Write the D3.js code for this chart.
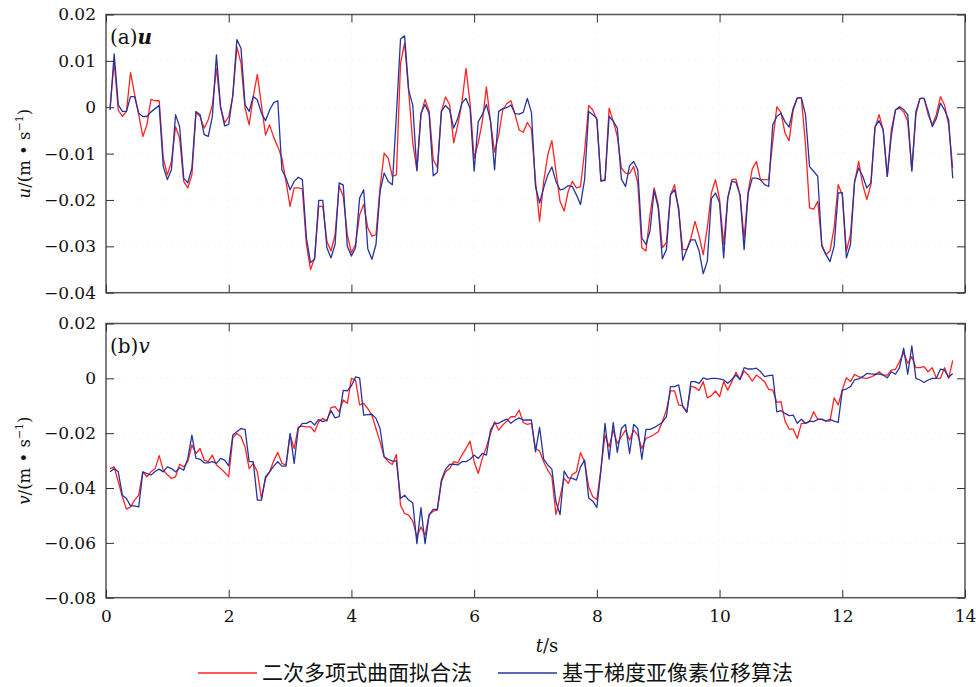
<!DOCTYPE html>
<html>
<head>
<meta charset="utf-8">
<script src="https://cdn.jsdelivr.net/npm/d3@7"></script>
<style>
  body { margin: 0; background: #fff; }
  svg { display: block; font-family: "DejaVu Serif", serif; }
</style>
</head>
<body>
<svg id="chart" width="976" height="687"></svg>
<script>
// DATA
const frameRate = 15; // samples per second, first sample at 1/15 s
const xTicks = [0, 2, 4, 6, 8, 10, 12, 14];
const uTicks = [0.02, 0.01, 0, -0.01, -0.02, -0.03, -0.04];
const vTicks = [0.02, 0, -0.02, -0.04, -0.06, -0.08];
const seriesNames = ["二次多项式曲面拟合法", "基于梯度亚像素位移算法"];

// velocities in 1e-3 m/s
const uRed = [
  0.1, 9.8, -0.6, -2.0, -0.9, 7.5, 2.7, -1.6, -6.3, -3.8,
  1.7, 1.4, 1.4, -11.0, -14.6, -11.7, -4.2, -6.7, -16.0, -17.4,
  -14.6, -1.1, -2.0, -4.5, -2.7, 0.5, 8.4, 0.1, -3.4, -2.0,
  2.3, 13.0, 9.5, -0.2, -3.8, 2.3, 7.1, 0.5, -6.0, -3.8,
  -6.5, -8.5, -11.0, -16.0, -21.4, -17.4, -17.4, -17.6, -29.6, -35.0,
  -32.5, -21.4, -21.4, -28.9, -31.0, -27.5, -17.0, -19.2, -27.5, -31.4,
  -29.6, -23.2, -21.0, -26.0, -27.8, -27.5, -17.4, -9.9, -11.0, -14.9,
  -14.6, 9.5, 13.8, 3.4, -7.7, -13.5, -1.6, 1.7, -0.9, -11.3,
  -13.0, -0.9, 2.2, 0.6, -7.7, -3.8, 0.9, 8.4, 0.9, -11.0,
  -7.7, -3.1, 4.4, -3.1, -9.7, -6.0, -0.6, 0.8, 1.4, -1.6,
  -4.9, -5.4, -3.3, -4.7, -16.0, -24.6, -16.0, -10.3, -7.2, -13.8,
  -20.3, -22.4, -18.1, -16.0, -17.4, -17.1, -9.5, 0.4, -0.6, -2.7,
  -16.0, -15.6, -0.2, -3.0, -6.3, -13.1, -14.2, -14.3, -12.8, -16.3,
  -30.3, -31.0, -23.2, -17.4, -21.0, -30.3, -29.2, -18.9, -16.7, -22.4,
  -30.7, -30.7, -28.2, -24.6, -27.8, -31.8, -26.0, -18.5, -15.6, -19.9,
  -29.6, -19.6, -15.6, -15.5, -18.9, -28.2, -18.1, -13.3, -11.7, -15.6,
  -15.6, -15.6, -7.4, 0.1, -1.1, -5.6, -7.2, -0.6, 2.0, 2.0,
  -8.0, -21.7, -22.0, -20.3, -29.6, -31.8, -31.0, -26.0, -16.7, -18.9,
  -31.0, -27.5, -16.3, -11.7, -16.7, -19.9, -16.7, -4.5, -1.6, -4.9,
  -14.9, -4.7, -0.6, -0.2, -1.0, -3.1, -13.5, -1.6, 1.9, 1.9,
  -1.6, -3.8, -1.6, 2.3, 0.5, -3.8, -13.1
];
const uBlue = [
  -0.6, 11.5, 0.5, -0.9, -0.9, 2.3, 2.3, -1.3, -2.0, -2.0,
  -1.0, -0.3, 0.4, -12.8, -15.6, -13.5, -1.6, -4.2, -15.3, -16.3,
  -13.1, -0.9, -1.6, -5.9, -6.3, -2.0, 11.3, 0.1, -4.0, -3.7,
  2.7, 14.6, 12.7, 0.5, -0.9, 2.3, 1.6, -1.3, -2.9, -0.6,
  1.0, 1.4, -13.5, -15.3, -17.8, -16.0, -15.1, -15.6, -28.2, -33.5,
  -32.8, -20.1, -20.1, -30.3, -32.5, -29.6, -16.3, -16.8, -30.0, -32.1,
  -30.3, -19.6, -17.8, -30.5, -32.8, -29.6, -18.1, -14.2, -16.0, -16.7,
  -1.6, 14.7, 15.4, 3.7, 0.4, -13.7, -1.3, 0.6, -1.4, -14.8,
  -14.0, -0.9, 0.4, -0.6, -4.5, -2.4, 0.9, 1.9, -0.2, -13.8,
  -3.1, -1.6, 0.6, -2.9, -13.5, -0.9, -0.3, -0.1, 0.5, -1.4,
  -1.5, -1.1, 1.9, -1.1, -17.1, -20.6, -17.4, -14.6, -12.9, -16.0,
  -17.8, -17.6, -16.9, -17.1, -18.9, -21.0, -15.6, -0.9, -1.6, -2.4,
  -15.8, -15.8, -2.0, -3.0, -4.5, -15.5, -17.1, -12.6, -11.7, -13.5,
  -28.2, -29.6, -26.7, -17.9, -21.7, -32.7, -30.7, -18.9, -17.8, -21.7,
  -33.0, -30.7, -28.6, -28.6, -31.0, -35.9, -33.2, -19.7, -18.5, -20.6,
  -32.5, -19.6, -16.0, -16.2, -18.9, -30.7, -18.5, -15.3, -15.3, -15.6,
  -16.7, -17.1, -3.8, -2.0, -1.3, -3.1, -4.3, -0.2, 2.0, 2.0,
  -1.6, -12.8, -13.8, -14.9, -30.0, -31.8, -33.3, -30.0, -18.5, -18.4,
  -32.5, -29.6, -16.0, -13.1, -14.9, -17.4, -16.3, -4.2, -2.9, -4.9,
  -14.9, -6.0, -0.6, 0.1, -0.5, -1.6, -13.8, -0.9, 1.9, 1.9,
  -0.9, -4.2, -2.4, 0.9, -0.6, -2.7, -15.3
];
const vRed = [
  -32.9, -32.3, -37.7, -43.2, -47.7, -46.9, -44.4, -42.6, -34.1, -35.9,
  -34.1, -33.0, -28.2, -33.5, -35.1, -36.5, -35.9, -31.3, -32.3, -30.4,
  -24.3, -27.4, -25.6, -29.8, -30.4, -28.0, -31.6, -32.9, -34.3, -35.9,
  -21.7, -20.1, -21.3, -25.0, -32.9, -31.0, -34.1, -43.8, -36.5, -34.1,
  -30.0, -27.0, -31.0, -31.6, -20.7, -25.6, -17.8, -17.4, -17.7, -17.7,
  -19.5, -15.8, -14.6, -15.6, -10.7, -10.3, -12.2, -7.9, -9.1, 0.0,
  -0.6, -9.7, -9.1, -11.0, -13.4, -18.3, -23.1, -28.6, -30.4, -31.4,
  -27.8, -46.3, -49.3, -49.9, -52.1, -57.8, -54.2, -57.2, -49.9, -48.4,
  -48.1, -37.7, -34.1, -32.9, -30.4, -30.8, -28.0, -25.6, -22.9, -30.4,
  -34.7, -29.2, -25.0, -20.1, -15.8, -18.9, -17.0, -15.6, -14.0, -14.0,
  -11.6, -16.1, -16.8, -16.4, -25.6, -26.5, -30.4, -33.5, -35.9, -49.7,
  -43.2, -36.5, -38.3, -35.1, -34.1, -27.1, -30.4, -39.6, -43.2, -44.2,
  -32.9, -20.7, -25.0, -18.9, -23.7, -21.3, -18.9, -22.5, -18.9, -20.7,
  -25.6, -21.9, -21.3, -20.5, -19.5, -15.8, -11.6, -4.6, -4.6, -9.7,
  -10.0, -12.2, -2.8, -3.4, -4.4, -1.2, -7.1, -6.3, -4.6, -6.7,
  -1.2, -4.3, -1.2, 2.2, -0.4, 2.7, 1.2, -1.0, 1.2, 0.0,
  -1.2, -4.0, -4.3, -8.8, -8.5, -15.6, -18.5, -18.5, -21.9, -16.4,
  -16.4, -15.8, -12.2, -14.9, -14.9, -15.5, -15.6, -7.1, -9.7, -4.3,
  0.2, -1.2, 1.5, 0.6, 0.2, 0.0, 0.5, 1.2, 2.4, 1.2,
  1.2, 3.0, 3.3, 6.1, 9.4, 5.5, 7.9, 3.9, 3.9, 4.3,
  2.4, 3.9, 0.0, 0.0, 3.9, 0.0, 6.5
];
const vBlue = [
  -34.1, -32.9, -34.1, -42.6, -43.8, -46.5, -46.5, -46.9, -34.1, -34.7,
  -35.3, -34.0, -33.1, -34.1, -32.3, -32.9, -34.1, -32.6, -33.5, -29.2,
  -20.7, -29.2, -29.5, -30.8, -30.8, -30.4, -31.0, -29.2, -29.8, -31.9,
  -20.7, -19.5, -18.3, -18.6, -30.4, -30.4, -44.4, -44.4, -35.9, -34.1,
  -32.0, -30.4, -32.0, -32.0, -20.1, -31.0, -18.3, -16.4, -16.4, -15.6,
  -17.0, -15.0, -15.8, -15.2, -11.8, -14.4, -14.0, -4.4, -4.6, -2.7,
  0.5, 0.2, -13.4, -13.2, -13.1, -14.6, -18.3, -28.6, -29.5, -30.2,
  -30.1, -43.8, -42.6, -44.4, -45.4, -60.3, -47.2, -60.3, -49.7, -47.8,
  -47.8, -37.1, -33.2, -31.4, -31.3, -31.6, -30.4, -30.4, -29.5, -28.0,
  -29.2, -27.4, -28.0, -18.9, -16.4, -16.4, -15.5, -14.9, -16.4, -15.2,
  -14.4, -15.2, -15.2, -15.2, -26.8, -17.9, -29.5, -31.6, -33.1, -45.0,
  -49.7, -33.8, -36.3, -36.5, -37.1, -32.3, -29.8, -43.6, -44.8, -47.1,
  -33.5, -16.4, -29.5, -16.1, -27.0, -18.3, -16.8, -27.4, -16.8, -18.3,
  -29.5, -18.6, -18.6, -18.0, -17.0, -16.1, -14.0, -3.0, -3.0, -2.4,
  -10.3, -12.4, -1.2, -1.2, -1.8, 0.2, -0.4, 0.0, 0.0, -0.2,
  -0.6, -1.8, -0.4, 1.2, -0.4, 3.9, 3.4, 3.4, 3.7, 2.5,
  0.6, 1.0, 1.2, -12.2, -11.8, -12.8, -13.6, -13.4, -16.4, -14.9,
  -16.4, -15.6, -15.8, -15.0, -15.0, -15.6, -15.0, -15.6, -16.1, -4.3,
  -3.9, -3.0, -0.6, -0.2, 0.6, 1.8, 1.6, 1.5, 1.6, 1.2,
  0.2, 2.4, 1.5, 3.9, 11.0, 1.5, 11.8, 0.0, -0.6, -1.5,
  -0.6, 0.0, 0.0, 3.4, 3.0, 0.4, 1.8
];

// CANVAS SETUP
const svg = d3.select("#chart");
const colors = ["#ff2323", "#26349e"];
const frameColor = "#555";
const left = 106, right = 965;

const x = d3.scaleLinear().domain([0, 14]).range([left, right]);

const panels = [
  { name: "u", tag: "(a)", top: 14.5, bottom: 292.7, domain: [-0.04, 0.02],
    ticks: uTicks, series: [uRed, uBlue], xLabels: false, bold: true },
  { name: "v", tag: "(b)", top: 323.5, bottom: 597.7, domain: [-0.08, 0.02],
    ticks: vTicks, series: [vRed, vBlue], xLabels: true, bold: false },
];

const fmt = (d) => (d === 0 ? "0" : (d < 0 ? "\u2212" : "") + d3.format(".2f")(Math.abs(d)));

function styleAxis(g) {
  g.select(".domain").remove();
  g.selectAll(".tick line").attr("stroke", "#333").attr("stroke-width", 1);
  g.selectAll(".tick text")
    .attr("fill", "#111")
    .attr("font-family", "DejaVu Serif, serif")
    .attr("font-size", 17);
}

panels.forEach((p) => {
  const y = d3.scaleLinear().domain(p.domain).range([p.bottom, p.top]);
  const g = svg.append("g").attr("class", `panel ${p.name}`);

  // faint grid
  g.append("g")
    .selectAll("line")
    .data(xTicks.slice(1, -1))
    .join("line")
    .attr("x1", (d) => x(d))
    .attr("x2", (d) => x(d))
    .attr("y1", p.top)
    .attr("y2", p.bottom)
    .attr("stroke", "#ececec")
    .attr("stroke-dasharray", "1,5");
  g.append("g")
    .selectAll("line")
    .data(p.ticks.slice(1, -1))
    .join("line")
    .attr("x1", left)
    .attr("x2", right)
    .attr("y1", (d) => y(d))
    .attr("y2", (d) => y(d))
    .attr("stroke", "#ececec")
    .attr("stroke-dasharray", "1,5");

  // series
  const line = d3
    .line()
    .x((d, i) => x((i + 1) / frameRate))
    .y((d) => y(d * 1e-3));

  g.append("g")
    .selectAll("path")
    .data(p.series)
    .join("path")
    .attr("d", line)
    .attr("fill", "none")
    .attr("stroke", (d, i) => colors[i])
    .attr("stroke-width", 1.3)
    .attr("stroke-linejoin", "round");

  // frame
  g.append("rect")
    .attr("x", left)
    .attr("y", p.top)
    .attr("width", right - left)
    .attr("height", p.bottom - p.top)
    .attr("fill", "none")
    .attr("stroke", frameColor)
    .attr("stroke-width", 1.5);

  // axes, ticks pointing inward
  g.append("g")
    .attr("transform", `translate(${left},0)`)
    .call(d3.axisLeft(y).tickValues(p.ticks).tickFormat(fmt).tickSize(-8).tickPadding(10))
    .call(styleAxis);
  g.append("g")
    .attr("transform", `translate(${right},0)`)
    .call(d3.axisRight(y).tickValues(p.ticks).tickFormat("").tickSize(-8))
    .call(styleAxis);
  g.append("g")
    .attr("transform", `translate(0,${p.top})`)
    .call(d3.axisTop(x).tickValues(xTicks).tickFormat("").tickSize(-8))
    .call(styleAxis);
  g.append("g")
    .attr("transform", `translate(0,${p.bottom})`)
    .call(
      d3.axisBottom(x)
        .tickValues(xTicks)
        .tickFormat(p.xLabels ? d3.format("d") : "")
        .tickSize(-8)
        .tickPadding(12)
    )
    .call(styleAxis);

  // panel tag
  const tag = g.append("text")
    .attr("x", left + 4)
    .attr("y", p.top + 29)
    .attr("font-size", 20)
    .attr("fill", "#111");
  tag.append("tspan").text(p.tag);
  tag.append("tspan")
    .attr("font-style", "italic")
    .attr("font-weight", p.bold ? "bold" : "normal")
    .text(p.name);

  // y label
  const cy = (p.top + p.bottom) / 2;
  const yl = g.append("text")
    .attr("transform", `translate(30,${cy}) rotate(-90)`)
    .attr("text-anchor", "middle")
    .attr("font-size", 16.5)
    .attr("fill", "#111");
  yl.append("tspan").attr("font-style", "italic").text(p.name);
  yl.append("tspan").text("/(m \u2022 s");
  yl.append("tspan").attr("font-size", 11).attr("dy", -7).text("\u22121");
  yl.append("tspan").attr("dy", 7).text(")");
});

// x label
const xl = svg.append("text")
  .attr("x", 547)
  .attr("y", 652)
  .attr("text-anchor", "middle")
  .attr("font-size", 18)
  .attr("fill", "#111");
xl.append("tspan").attr("font-style", "italic").text("t");
xl.append("tspan").text("/s");

// legend
const legendX = [198, 498];
const legend = svg.append("g")
  .selectAll("g")
  .data(seriesNames)
  .join("g")
  .attr("transform", (d, i) => `translate(${legendX[i]},673)`);
legend.append("line")
  .attr("x1", 0)
  .attr("x2", 59)
  .attr("stroke", (d, i) => colors[i])
  .attr("stroke-width", 1.3);
legend.append("text")
  .attr("x", 64)
  .attr("y", 7)
  .attr("font-family", "Noto Sans CJK SC, sans-serif")
  .attr("font-size", 21)
  .attr("fill", "#111")
  .text((d) => d);
</script>
</body>
</html>
